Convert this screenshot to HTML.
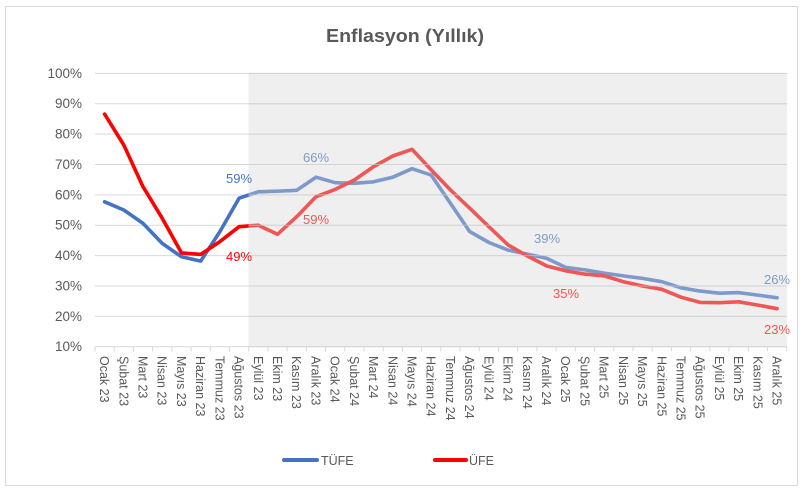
<!DOCTYPE html>
<html><head><meta charset="utf-8"><style>
html,body{margin:0;padding:0;background:#fff;}
svg{display:block;font-family:"Liberation Sans",sans-serif;}
</style></head><body>
<svg width="808" height="491" viewBox="0 0 808 491">
<rect x="0" y="0" width="808" height="491" fill="#fff"/>
<rect x="5.5" y="6.5" width="792" height="479" fill="#fff" stroke="#d9d9d9" stroke-width="1"/>
<text x="405" y="42" text-anchor="middle" font-size="18" font-weight="bold" fill="#595959" textLength="158" lengthAdjust="spacingAndGlyphs">Enflasyon (Yıllık)</text>
<g id="grid" stroke="#d9d9d9" stroke-width="1"></g>
<g id="ylab" font-size="13.5" fill="#595959" text-anchor="end"></g>
<g id="lines"></g>
<rect x="248.5" y="73" width="538.5" height="273.7" fill="rgb(215,215,215)" fill-opacity="0.4"/>
<g id="grid2" stroke="#d0d0d0" stroke-width="1" opacity="0.6"></g>
<g id="xlab" font-size="12.5" fill="#595959"></g>
<g font-size="13">
<text x="239" y="183" text-anchor="middle" fill="#4472C4">59%</text>
<text x="239" y="261" text-anchor="middle" fill="#FF0000">49%</text>
<text x="316" y="162" text-anchor="middle" fill="#7F9ACC">66%</text>
<text x="316" y="224" text-anchor="middle" fill="#EF5656">59%</text>
<text x="547" y="243" text-anchor="middle" fill="#7F9ACC">39%</text>
<text x="566" y="298" text-anchor="middle" fill="#EF5656">35%</text>
<text x="777" y="284" text-anchor="middle" fill="#7F9ACC">26%</text>
<text x="777" y="334" text-anchor="middle" fill="#EF5656">23%</text>
</g>
<line x1="284" y1="460" x2="317" y2="460" stroke="#4472C4" stroke-width="4" stroke-linecap="round"/>
<text x="321" y="465" font-size="12.5" fill="#595959">TÜFE</text>
<line x1="435" y1="460" x2="466" y2="460" stroke="#FF0000" stroke-width="4" stroke-linecap="round"/>
<text x="469" y="465" font-size="12.5" fill="#595959">ÜFE</text>
</svg>
<script>
const ns="http://www.w3.org/2000/svg";
const X0=95,X1=786.7,N=36,cw=(X1-X0)/N;
const Y=v=>346.7-(v-10)*3.037;
const cx=i=>X0+cw/2+cw*i;
function el(t,a,p,txt){const e=document.createElementNS(ns,t);for(const k in a)e.setAttribute(k,a[k]);if(txt)e.textContent=txt;document.getElementById(p).appendChild(e);return e;}
for(let v=10;v<=100;v+=10){
 el('line',{x1:X0,x2:X1,y1:Y(v),y2:Y(v)},'grid');
 el('line',{x1:248.5,x2:X1,y1:Y(v),y2:Y(v)},'grid2');
 el('text',{x:82,y:Y(v)+4.5},'ylab',v+'%');
}
for(let i=0;i<=N;i++){el('line',{x1:X0+cw*i,x2:X0+cw*i,y1:346.7,y2:351.5},'grid');}
const m=["Ocak","Şubat","Mart","Nisan","Mayıs","Haziran","Temmuz","Ağustos","Eylül","Ekim","Kasım","Aralık"];
for(let i=0;i<N;i++){
 const lab=m[i%12]+" "+(23+Math.floor(i/12));
 const x=cx(i)-4.5,y=356;
 el('text',{x:x,y:y,transform:`rotate(90 ${x} ${y})`},'xlab',lab);
}
const tufe=[57.7,55,50.6,44,39.6,38.2,47.9,58.9,61,61.2,61.5,65.8,64,63.8,64.3,65.8,68.6,66.5,57.2,47.9,44.3,41.8,40.5,39.1,36.1,35.3,34.2,33.3,32.5,31.4,29.4,28.3,27.6,27.8,27,26.1];
const ufe=[86.6,76.4,62.7,52.3,40.9,40.4,44.6,49.5,50,47,52.8,59.4,61.8,64.9,69.3,72.8,75,68.2,61.6,55.6,49.5,43.5,39.9,36.6,35,33.9,33.3,31.4,30,28.9,26.3,24.6,24.5,24.8,23.7,22.5];
function line(d,c){el('polyline',{points:d.map((v,i)=>cx(i).toFixed(1)+","+Y(v).toFixed(1)).join(" "),fill:"none",stroke:c,"stroke-width":3.6,"stroke-linejoin":"round","stroke-linecap":"round"},'lines');}
line(tufe,"#4472C4");line(ufe,"#FF0000");
</script>
</body></html>
